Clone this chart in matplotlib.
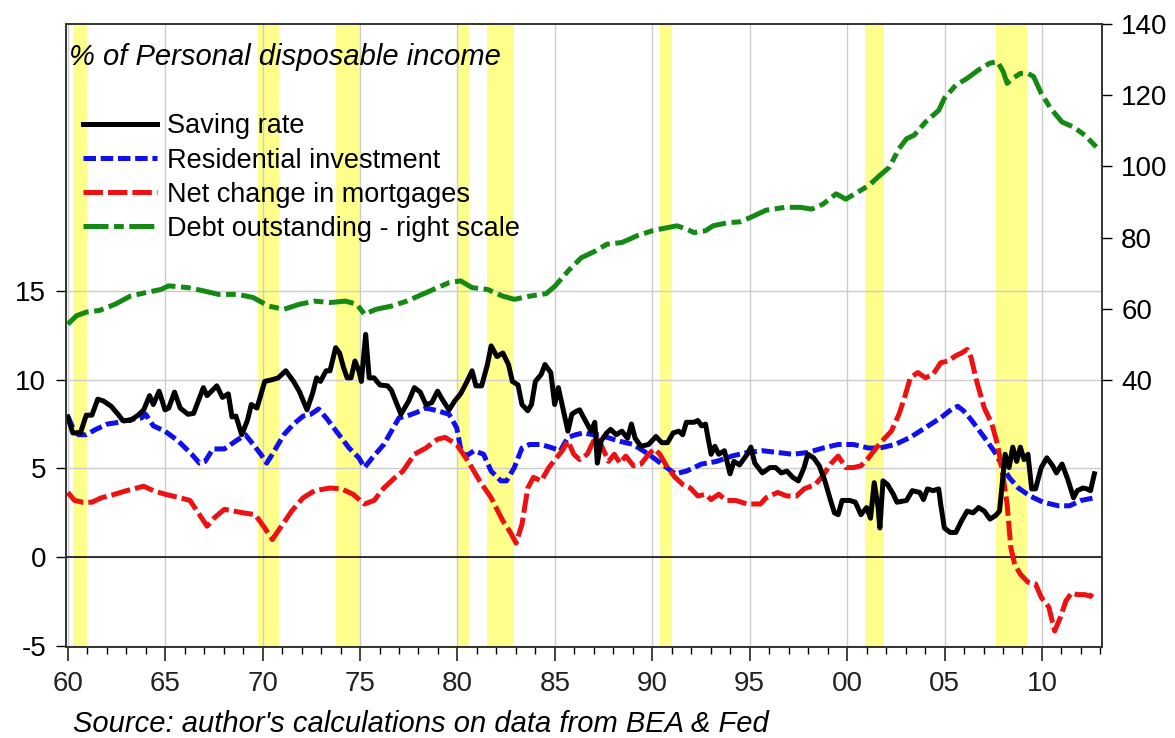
import matplotlib
matplotlib.use("Agg")
import matplotlib.pyplot as plt

plt.rcParams['font.family'] = ['Liberation Sans', 'DejaVu Sans']
plt.rcParams['lines.scale_dashes'] = False

# saving rate, % of personal disposable income (year, value)
sav_year = [1960.00, 1960.26, 1960.65, 1960.95, 1961.24, 1961.54, 1961.83, 1962.23, 1962.62, 1962.82,
            1963.21, 1963.61, 1963.90, 1964.20, 1964.39, 1964.69, 1964.99, 1965.18, 1965.48, 1965.77,
            1966.17, 1966.46, 1966.96, 1967.15, 1967.65, 1967.94, 1968.24, 1968.43, 1968.63, 1968.93,
            1969.22, 1969.42, 1969.71, 1970.11, 1970.50, 1970.80, 1971.19, 1971.59, 1971.88, 1972.28,
            1972.57, 1972.77, 1972.97, 1973.26, 1973.46, 1973.75, 1973.95, 1974.15, 1974.34, 1974.54,
            1974.74, 1974.94, 1975.07, 1975.29, 1975.47, 1975.72, 1976.02, 1976.41, 1976.61, 1977.10,
            1977.50, 1977.79, 1978.09, 1978.38, 1978.68, 1978.98, 1979.27, 1979.57, 1979.86, 1980.16,
            1980.45, 1980.75, 1980.95, 1981.24, 1981.54, 1981.73, 1982.03, 1982.33, 1982.62, 1982.82,
            1983.11, 1983.31, 1983.61, 1983.80, 1984.00, 1984.30, 1984.49, 1984.79, 1984.99, 1985.18,
            1985.48, 1985.67, 1985.87, 1986.07, 1986.27, 1986.56, 1986.86, 1987.05, 1987.18, 1987.37,
            1987.66, 1987.86, 1988.15, 1988.44, 1988.73, 1988.93, 1989.12, 1989.42, 1989.81, 1990.19,
            1990.49, 1990.78, 1991.07, 1991.36, 1991.56, 1991.75, 1992.14, 1992.34, 1992.53, 1992.73,
            1993.02, 1993.21, 1993.41, 1993.70, 1993.99, 1994.19, 1994.48, 1994.87, 1995.06, 1995.26,
            1995.65, 1996.04, 1996.33, 1996.62, 1996.91, 1997.21, 1997.50, 1997.79, 1997.98, 1998.28,
            1998.57, 1998.86, 1999.15, 1999.35, 1999.54, 1999.74, 2000.13, 2000.42, 2000.71, 2001.00,
            2001.20, 2001.39, 2001.59, 2001.68, 2001.84, 2002.07, 2002.37, 2002.56, 2003.05, 2003.34,
            2003.73, 2003.92, 2004.12, 2004.41, 2004.70, 2004.80, 2004.99, 2005.29, 2005.58, 2005.87,
            2006.16, 2006.46, 2006.75, 2007.04, 2007.33, 2007.62, 2007.82, 2008.01, 2008.11, 2008.31,
            2008.50, 2008.70, 2008.89, 2009.08, 2009.28, 2009.47, 2009.67, 2009.96, 2010.25, 2010.55,
            2010.74, 2011.03, 2011.32, 2011.62, 2011.81, 2012.10, 2012.30, 2012.49, 2012.69]
sav_val = [7.9, 7.0, 7.0, 8.0, 8.0, 8.9, 8.8, 8.5, 8.0, 7.7,
           7.7, 8.0, 8.3, 9.1, 8.6, 9.35, 8.3, 8.4, 9.3, 8.4,
           8.05, 8.1, 9.55, 9.1, 9.65, 9.0, 9.2, 7.9, 7.95, 6.9,
           7.7, 8.6, 8.4, 9.9, 10.0, 10.1, 10.5, 9.9, 9.35, 8.3,
           9.25, 10.1, 9.9, 10.5, 10.5, 11.8, 11.5, 10.7, 10.1, 10.1,
           11.05, 10.5, 9.9, 12.55, 10.1, 10.1, 9.7, 9.65, 9.4, 8.05,
           8.8, 9.55, 9.3, 8.6, 8.7, 9.35, 8.8, 8.3, 8.8, 9.2,
           9.8, 10.5, 9.65, 9.65, 10.85, 11.9, 11.3, 11.5, 10.85, 9.9,
           9.7, 8.6, 8.25, 8.6, 9.9, 10.3, 10.85, 10.4, 8.6, 9.55,
           8.05, 7.1, 8.05, 8.2, 8.3, 7.7, 7.1, 7.6, 5.3, 6.55,
           7.0, 7.2, 6.9, 7.1, 6.7, 7.5, 6.7, 6.25, 6.35, 6.8,
           6.45, 6.45, 7.0, 7.1, 6.9, 7.6, 7.6, 7.7, 7.4, 7.5,
           5.8, 6.25, 5.8, 6.0, 4.7, 5.4, 5.2, 5.8, 6.2, 5.3,
           4.75, 5.05, 5.05, 4.75, 4.85, 4.5, 4.3, 5.05, 5.8, 5.6,
           5.15, 4.3, 3.2, 2.5, 2.4, 3.2, 3.2, 3.1, 2.4, 2.8,
           2.2, 4.2, 2.8, 1.65, 4.3, 4.1, 3.55, 3.1, 3.2, 3.75,
           3.65, 3.25, 3.85, 3.75, 3.85, 3.0, 1.65, 1.4, 1.4, 2.05,
           2.6, 2.5, 2.8, 2.6, 2.15, 2.35, 2.6, 4.7, 5.8, 5.05,
           6.2, 5.4, 6.2, 5.5, 5.8, 3.85, 3.85, 5.05, 5.6, 5.15,
           4.75, 5.25, 4.4, 3.35, 3.75, 3.9, 3.85, 3.75, 4.7]

# residential investment
res_year = [1960.00, 1960.26, 1960.55, 1960.95, 1961.44, 1962.03, 1962.62, 1963.21, 1963.80, 1964.00,
            1964.39, 1964.99, 1965.67, 1966.36, 1966.76, 1967.05, 1967.45, 1968.04, 1968.63, 1969.12,
            1969.52, 1969.91, 1970.21, 1970.50, 1971.09, 1971.59, 1972.08, 1972.47, 1972.87, 1973.26,
            1973.85, 1974.44, 1974.94, 1975.23, 1975.63, 1976.22, 1976.61, 1977.00, 1977.40, 1977.89,
            1978.38, 1978.98, 1979.57, 1979.96, 1980.16, 1980.45, 1980.85, 1981.34, 1981.73, 1982.23,
            1982.52, 1982.92, 1983.31, 1983.70, 1984.30, 1984.89, 1985.28, 1985.67, 1986.07, 1986.46,
            1986.96, 1987.27, 1988.25, 1989.03, 1989.81, 1990.49, 1991.17, 1991.75, 1992.53, 1993.31,
            1994.09, 1994.87, 1995.65, 1996.43, 1997.21, 1997.98, 1998.76, 1999.54, 2000.32, 2001.10,
            2001.68, 2002.46, 2003.24, 2004.02, 2004.80, 2005.38, 2005.68, 2005.97, 2006.36, 2006.94,
            2007.53, 2007.92, 2008.31, 2008.79, 2009.38, 2010.06, 2010.84, 2011.42, 2012.01, 2012.69]
res_val = [7.95, 7.3, 6.9, 6.9, 7.2, 7.5, 7.6, 7.75, 7.85, 8.05,
           7.4, 7.1, 6.55, 5.8, 5.3, 5.4, 6.1, 6.1, 6.55, 6.9,
           6.35, 5.8, 5.3, 5.8, 6.9, 7.5, 7.95, 8.05, 8.35, 7.85,
           7.0, 6.15, 5.6, 5.05, 5.6, 6.35, 7.1, 7.85, 7.95, 8.15,
           8.4, 8.25, 8.05, 7.3, 6.15, 5.7, 6.0, 5.8, 4.85, 4.3,
           4.3, 5.05, 6.15, 6.35, 6.35, 6.15, 6.0, 6.75, 6.9, 7.0,
           6.9, 6.9, 6.55, 6.35, 5.8, 5.25, 4.7, 4.85, 5.25, 5.4,
           5.7, 5.9, 6.0, 5.9, 5.8, 5.9, 6.15, 6.35, 6.35, 6.15,
           6.15, 6.35, 6.75, 7.3, 7.85, 8.35, 8.5, 8.25, 7.75, 6.9,
           6.0, 5.25, 4.5, 3.9, 3.45, 3.1, 2.9, 2.9, 3.2, 3.35]

# net change in mortgages
mort_year = [1960.00, 1960.35, 1960.75, 1961.24, 1961.73, 1962.42, 1963.01, 1963.90, 1964.39, 1964.99,
             1965.77, 1966.27, 1966.76, 1967.15, 1967.55, 1968.04, 1968.53, 1969.02, 1969.62, 1970.11,
             1970.50, 1970.90, 1971.49, 1972.08, 1972.67, 1973.46, 1974.05, 1974.64, 1975.23, 1975.72,
             1976.22, 1976.81, 1977.20, 1977.79, 1978.38, 1978.98, 1979.37, 1979.96, 1980.55, 1981.14,
             1981.73, 1982.33, 1982.72, 1983.01, 1983.31, 1983.61, 1983.90, 1984.30, 1984.69, 1985.08,
             1985.38, 1985.67, 1985.97, 1986.27, 1986.66, 1987.08, 1987.27, 1987.47, 1987.76, 1988.05,
             1988.34, 1988.64, 1989.03, 1989.42, 1989.81, 1990.10, 1990.39, 1990.78, 1991.17, 1991.56,
             1991.95, 1992.34, 1992.73, 1993.02, 1993.41, 1993.80, 1994.28, 1994.87, 1995.55, 1995.84,
             1996.43, 1996.91, 1997.40, 1997.79, 1998.37, 1998.76, 1999.15, 1999.54, 1999.93, 2000.32,
             2000.71, 2001.10, 2001.49, 2001.88, 2002.27, 2002.66, 2002.95, 2003.24, 2003.63, 2004.02,
             2004.41, 2004.80, 2005.19, 2005.58, 2005.87, 2006.16, 2006.36, 2006.65, 2007.04, 2007.43,
             2007.72, 2008.01, 2008.21, 2008.40, 2008.60, 2008.89, 2009.28, 2009.67, 2009.96, 2010.35,
             2010.65, 2010.94, 2011.23, 2011.52, 2011.81, 2012.20, 2012.49, 2012.69]
mort_val = [3.65, 3.2, 3.1, 3.1, 3.35, 3.55, 3.75, 4.0, 3.75, 3.55,
            3.35, 3.2, 2.4, 1.75, 2.25, 2.7, 2.6, 2.5, 2.4, 1.65,
            1.0, 1.65, 2.6, 3.35, 3.75, 3.9, 3.85, 3.55, 3.0, 3.2,
            3.9, 4.5, 4.85, 5.8, 6.15, 6.65, 6.75, 6.35, 5.4, 4.3,
            3.35, 2.05, 1.4, 0.8, 1.85, 3.9, 4.5, 4.3, 5.05, 5.6,
            6.0, 6.55, 5.8, 5.5, 5.8, 6.75, 6.55, 6.1, 5.4, 5.8,
            5.3, 5.7, 5.15, 5.25, 5.8, 6.1, 5.8, 5.05, 4.5, 4.1,
            3.9, 3.45, 3.55, 3.25, 3.55, 3.2, 3.2, 3.0, 3.0, 3.35,
            3.65, 3.45, 3.45, 3.85, 4.1, 4.6, 5.25, 5.7, 5.05, 5.05,
            5.15, 5.6, 6.15, 6.65, 7.1, 8.05, 9.0, 10.1, 10.4, 10.1,
            10.3, 10.95, 11.05, 11.35, 11.5, 11.7, 11.25, 9.9, 8.4, 7.5,
            6.35, 4.5, 3.0, 0.55, -0.4, -0.95, -1.4, -1.5, -2.25, -2.8,
            -4.15, -3.4, -2.45, -2.0, -2.1, -2.1, -2.2, -1.8]

# debt outstanding, right scale
debt_year = [1960.00, 1960.45, 1960.95, 1961.64, 1962.42, 1963.21, 1964.00, 1964.79, 1965.18, 1966.17,
             1966.96, 1967.74, 1968.73, 1969.52, 1970.31, 1971.09, 1971.88, 1972.67, 1973.46, 1974.25,
             1974.84, 1975.23, 1975.82, 1976.61, 1977.40, 1978.19, 1978.98, 1979.57, 1980.16, 1980.75,
             1981.54, 1982.33, 1982.92, 1983.70, 1984.55, 1985.00, 1985.70, 1986.35, 1987.08, 1987.66,
             1988.44, 1989.22, 1990.00, 1990.78, 1991.27, 1991.75, 1992.14, 1992.73, 1993.12, 1993.89,
             1994.48, 1995.06, 1995.84, 1996.82, 1997.60, 1998.18, 1998.76, 1999.44, 1999.93, 2000.52,
             2001.10, 2001.68, 2002.17, 2002.66, 2003.05, 2003.44, 2004.02, 2004.70, 2004.99, 2005.58,
             2006.16, 2006.75, 2007.33, 2007.72, 2008.01, 2008.21, 2008.50, 2008.89, 2009.28, 2009.57,
             2009.96, 2010.45, 2011.03, 2011.62, 2012.20, 2012.79]
debt_val = [55.6, 58.0, 59.0, 59.5, 61.2, 63.5, 64.5, 65.4, 66.4, 65.9,
            65.0, 64.0, 64.0, 63.1, 60.7, 59.8, 61.2, 62.1, 61.7, 62.1,
            61.2, 58.4, 59.8, 60.7, 62.1, 64.0, 65.9, 67.3, 67.8, 65.9,
            65.4, 63.5, 62.6, 63.5, 64.2, 66.3, 70.7, 74.3, 76.2, 78.1,
            78.6, 80.5, 81.9, 82.8, 83.3, 82.4, 81.4, 81.9, 83.3, 84.2,
            84.4, 85.7, 87.7, 88.5, 88.5, 88.0, 89.4, 92.3, 90.8, 92.7,
            94.6, 97.5, 99.8, 105.0, 107.8, 108.8, 112.5, 115.8, 119.2, 122.9,
            124.8, 127.2, 129.1, 129.5, 126.7, 123.4, 124.8, 126.2, 126.2, 125.3,
            120.6, 116.3, 112.5, 111.1, 108.8, 105.5]

# recession shading (start, end)
recessions = [(1960.25, 1961.0), (1969.75, 1970.85), (1973.75, 1975.05), (1980.0, 1980.6),
              (1981.5, 1982.9), (1990.4, 1991.0), (2000.9, 2001.9), (2007.65, 2009.25)]

fig = plt.figure(figsize=(11.75, 7.38), dpi=100)
ax = fig.add_axes([0.056, 0.1233, 0.8817, 0.8437])
ax2 = ax.twinx()

for a, b in recessions:
    ax.axvspan(a, b, color='#FFFF8C', lw=0, zorder=0)

ax.set_xlim(1959.9, 2013.07)
ax.set_ylim(-5.05, 30)
ax2.set_ylim(-35.25, 140)

ax.set_xticks(range(1960, 2011, 5))
ax.set_xticklabels(['%02d' % (y % 100) for y in range(1960, 2011, 5)])
ax.set_xticks(range(1960, 2014), minor=True)
ax.set_yticks([-5, 0, 5, 10, 15])
ax.set_yticklabels(['-5', '0', '5', '10', '15'])
ax2.set_yticks([40, 60, 80, 100, 120, 140])

ax.grid(True, which='major', color='#CCCCCC', lw=1.0, zorder=1)
ax.set_axisbelow(True)
ax.axhline(0, color='#222222', lw=1.3, zorder=2)

ax.tick_params(axis='x', which='major', direction='out', length=10, width=1.2, pad=7,
               labelsize=20, colors='#222222')
ax.tick_params(axis='x', which='minor', direction='out', length=5, width=1.0)
ax.tick_params(axis='y', direction='out', length=7, width=1.0, pad=7, labelsize=20)
ax2.tick_params(axis='y', direction='out', length=7, width=1.0, pad=7, labelsize=20)

for a in (ax, ax2):
    for s in a.spines.values():
        s.set_color('#333333')
        s.set_linewidth(1.2)

l1, = ax.plot(sav_year, sav_val, color='black', lw=3.6, zorder=5, solid_joinstyle='round')
l2, = ax.plot(res_year, res_val, color='#1010EE', lw=3.6, dashes=(9, 3.4), zorder=4)
l3, = ax.plot(mort_year, mort_val, color='#EE1111', lw=3.6, dashes=(14, 3.6), zorder=4)
l4, = ax2.plot(debt_year, debt_val, color='#148A14', lw=3.6, dashes=(18, 4, 7, 4), zorder=4)

ax.text(0.003, 0.947, '% of Personal disposable income', transform=ax.transAxes,
        fontsize=21, fontstyle='italic', ha='left', va='center', zorder=6)

ax2.legend([l1, l2, l3, l4],
           ['Saving rate', 'Residential investment', 'Net change in mortgages',
            'Debt outstanding - right scale'],
           loc='upper left', bbox_to_anchor=(0.0166, 0.857), frameon=False,
           fontsize=19.5, handlelength=2.75, handletextpad=0.35, labelspacing=0.3,
           borderpad=0, borderaxespad=0)

fig.text(0.062, 0.019, "Source: author's calculations on data from BEA & Fed",
         fontsize=21, fontstyle='italic', ha='left', va='center')

fig.savefig('out.png', dpi=100)
